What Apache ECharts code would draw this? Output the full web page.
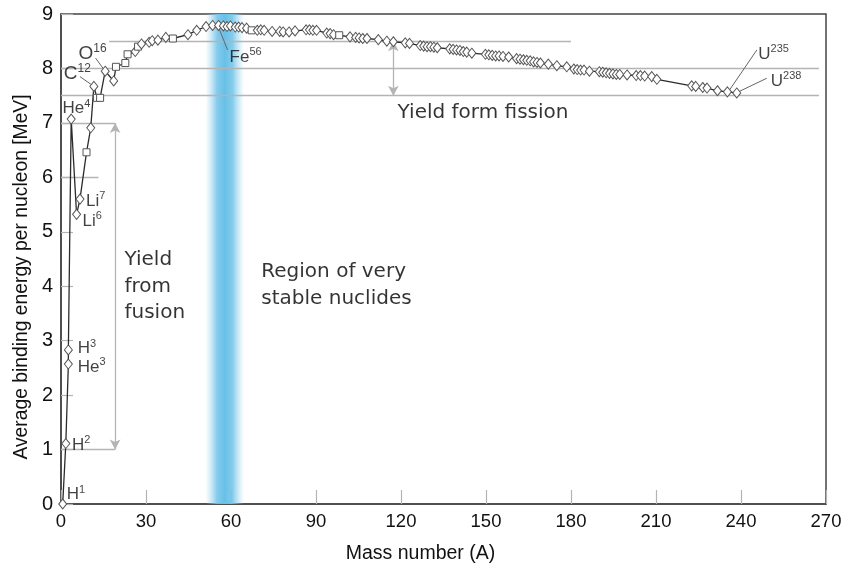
<!DOCTYPE html>
<html>
<head>
<meta charset="utf-8">
<script src="https://cdn.jsdelivr.net/npm/echarts@6/dist/echarts.min.js"></script>
<style>
  html, body { margin: 0; padding: 0; background: #fff; }
  #chart { width: 845px; height: 566px; }
</style>
</head>
<body>
<div id="chart"></div>
<script>
// Nuclide mass numbers and average binding energy per nucleon (MeV)
const massNumber = [
  0.6, 1.7, 2.6, 2.6, 3.6, 5.5, 6.7, 9.0, 10.5, 11.6, 12.7, 13.8, 15.6, 18.6, 19.4,
  22.7, 23.5, 26.2, 27.2, 28.4, 31.1, 32.2, 34.2, 37.0, 39.5, 44.8, 47.9, 51.2, 53.5,
  55.6, 57.3, 58.6, 59.8, 61.5, 62.7, 63.9, 65.5, 67.3, 69.3, 70.5, 71.7, 74.5, 77.2,
  78.4, 80.5, 82.6, 86.5, 87.7, 88.9, 90.2, 93.8, 95.0, 96.2, 98.2, 102.0, 104.0,
  105.2, 106.5, 108.0, 112.0, 115.0, 117.3, 121.5, 123.0, 126.8, 128.0, 129.2, 130.4,
  131.6, 132.8, 137.2, 138.4, 139.6, 140.8, 142.0, 143.2, 145.0, 149.8, 151.0, 152.2,
  153.4, 154.6, 156.0, 158.0, 160.8, 162.0, 163.2, 164.4, 165.6, 166.8, 168.0, 169.2,
  172.0, 175.0, 178.5, 181.0, 182.2, 183.4, 184.6, 186.5, 190.0, 191.2, 192.4, 193.6,
  194.8, 196.0, 197.2, 199.8, 203.0, 204.5, 206.0, 208.5, 210.3, 222.6, 224.0, 226.5,
  228.0, 231.7, 235.2, 238.5
];
const bindingEnergy = [
  0.00, 1.11, 2.57, 2.83, 7.07, 5.32, 5.60, 6.46, 6.91, 7.67, 7.46, 7.46, 7.95, 7.77, 8.03,
  8.10, 8.26, 8.31, 8.40, 8.45, 8.48, 8.51, 8.52, 8.57, 8.55, 8.62, 8.70, 8.77, 8.79,
  8.79, 8.78, 8.77, 8.78, 8.76, 8.76, 8.75, 8.74, 8.70, 8.70, 8.71, 8.70, 8.68, 8.68,
  8.67, 8.67, 8.69, 8.71, 8.71, 8.70, 8.70, 8.65, 8.64, 8.62, 8.61, 8.58, 8.57,
  8.56, 8.55, 8.55, 8.53, 8.50, 8.49, 8.47, 8.46, 8.42, 8.41, 8.40, 8.40,
  8.39, 8.38, 8.36, 8.35, 8.34, 8.33, 8.31, 8.30, 8.28, 8.26, 8.25, 8.24,
  8.23, 8.23, 8.22, 8.21, 8.18, 8.17, 8.16, 8.15, 8.14, 8.12, 8.11, 8.10,
  8.08, 8.05, 8.03, 7.99, 7.98, 7.97, 7.97, 7.95, 7.94, 7.93, 7.92, 7.91,
  7.90, 7.89, 7.89, 7.88, 7.87, 7.87, 7.86, 7.85, 7.80, 7.68, 7.67, 7.65,
  7.64, 7.59, 7.57, 7.55
];
// marker shape per nuclide: d = diamond, s = square
const markerShape = [
  'd','d','d','d','d','d','d','s','d','d','s','s','d','d','s',
  's','s','d','s','d','d','d','d','d','s','d','d','d','d',
  'd','d','d','d','d','d','d','d','s','d','d','d','d','d',
  'd','d','d','d','d','d','d','d','d','d','s','d','d',
  'd','d','d','d','d','d','d','d','d','d','d','d',
  'd','d','d','d','d','d','d','d','d','d','d','d',
  'd','d','d','d','d','d','d','d','d','d','d','d',
  'd','d','d','d','d','d','d','d','d','d','d','d',
  'd','d','d','d','d','d','d','d','d','d','d','d',
  'd','d','d','d'
];

// Nuclide labels: element symbol, mass number superscript, anchor [A, E]
const isotopeSymbol = ['H', 'H', 'He', 'H', 'He', 'Li', 'Li', 'C', 'O', 'Fe', 'U', 'U'];
const isotopeMass   = ['1', '2', '3', '3', '4', '7', '6', '12', '16', '56', '235', '238'];
const isotopeAnchor = [
  [2.0, 0.19], [3.9, 1.10], [5.9, 2.53], [5.9, 2.87], [0.5, 7.28], [8.8, 5.58],
  [7.6, 5.21], [1.0, 7.92], [6.2, 8.28], [59.5, 8.22], [246.1, 8.28], [250.5, 7.79]
];
const isotopeLarge  = [false, false, false, false, false, false, false, true, true, false, false, false];

// Leader lines from labels to their nuclides: [A1, E1, A2, E2]
const leaders = [
  [6.7, 7.85, 10.8, 7.70],
  [12.2, 8.19, 15.3, 7.97],
  [55.4, 8.78, 58.8, 8.34],
  [235.9, 7.60, 245.6, 8.34],
  [239.1, 7.57, 249.1, 7.82]
];

// Region texts
const regionTexts = ['Yield\nfrom\nfusion', 'Region of very\nstable nuclides', 'Yield form fission'];
const regionAnchor = [[22.4, 3.99], [70.7, 4.02], [118.8, 7.18]];

// Stable band limits on the mass-number axis
const stableBand = [51.0, 64.6];

const xTicks = { min: 0, max: 270, interval: 30 };
const yTicks = { min: 0, max: 9, interval: 1 };

const GRAY = '#b4b4b4';
const AXIS = '#444';
const TXT = '#111';
const SANS = '"Liberation Sans", Arial, sans-serif';
const ROUND = '"DejaVu Sans", sans-serif';

const curveData = massNumber.map((a, i) => {
  const sq = markerShape[i] === 's';
  return {
    value: [a, bindingEnergy[i]],
    symbol: sq ? 'rect' : 'diamond',
    symbolSize: sq ? [7, 7] : [8, 10]
  };
});

const plainLine = (a1, e1, a2, e2) => [
  { coord: [a1, e1], symbol: 'none' },
  { coord: [a2, e2], symbol: 'none' }
];
const arrowLine = (a1, e1, a2, e2) => [
  { coord: [a1, e1], symbol: 'arrow', symbolSize: [8, 10] },
  { coord: [a2, e2], symbol: 'arrow', symbolSize: [8, 10] }
];

const guideLines = [
  plainLine(0, 8, 267.5, 8),
  plainLine(0, 7.5, 267.5, 7.5),
  plainLine(17, 8.5, 180, 8.5),
  plainLine(0, 7, 19.1, 7),
  plainLine(0, 1, 19.1, 1),
  plainLine(0, 6, 13.2, 6),
  arrowLine(19.1, 7, 19.1, 1),
  arrowLine(117.3, 8.5, 117.3, 7.5)
];
const leaderLines = leaders.map(l => plainLine(l[0], l[1], l[2], l[3]));

const labelData = isotopeSymbol.map((s, i) => ({
  value: isotopeAnchor[i],
  label: {
    formatter: isotopeLarge[i] ? `{B|${s}}{S|${isotopeMass[i]}}` : `{b|${s}}{s|${isotopeMass[i]}}`
  }
}));

const regionData = regionTexts.map((t, i) => ({ value: regionAnchor[i], name: t }));

const chart = echarts.init(document.getElementById('chart'), null, { renderer: 'canvas' });

chart.setOption({
  animation: false,
  backgroundColor: '#fff',
  grid: {
    left: 61, right: 19, top: 14, bottom: 62,
    outerBoundsMode: 'none',
    containLabel: false,
    show: true, borderColor: AXIS, borderWidth: 1.5, backgroundColor: 'transparent'
  },
  xAxis: {
    type: 'value',
    min: xTicks.min, max: xTicks.max, interval: xTicks.interval,
    name: 'Mass number (A)',
    nameLocation: 'middle',
    nameGap: 40,
    nameTextStyle: { color: TXT, fontSize: 19.5, fontFamily: SANS, padding: [0, 46, 0, 0] },
    axisLine: { show: true, lineStyle: { color: AXIS, width: 1.5 } },
    axisTick: { show: true, inside: true, length: 14, lineStyle: { color: GRAY, width: 1.2 } },
    axisLabel: { color: TXT, fontSize: 18.5, fontFamily: SANS, margin: 8 },
    splitLine: { show: false }
  },
  yAxis: {
    type: 'value',
    min: yTicks.min, max: yTicks.max, interval: yTicks.interval,
    name: 'Average binding energy per nucleon [MeV]',
    nameLocation: 'middle',
    nameRotate: 90,
    nameGap: 30,
    nameTextStyle: { color: TXT, fontSize: 19.3, fontFamily: SANS, padding: [0, 36, 0, 0] },
    axisLine: { show: true, lineStyle: { color: AXIS, width: 1.5 } },
    axisTick: { show: true, inside: true, length: 12, lineStyle: { color: GRAY, width: 1.2 } },
    axisLabel: { color: TXT, fontSize: 20, fontFamily: SANS, margin: 8 },
    splitLine: { show: false }
  },
  series: [
    {
      // light-gray guides, arrows and the stable-nuclide band
      name: 'guides',
      type: 'line',
      data: [],
      z: 1,
      silent: true,
      markArea: {
        silent: true,
        itemStyle: {
          color: {
            type: 'linear', x: 0, y: 0, x2: 1, y2: 0,
            colorStops: [
              { offset: 0, color: 'rgba(150,210,238,0)' },
              { offset: 0.15, color: 'rgba(140,205,236,0.45)' },
              { offset: 0.3, color: 'rgba(118,198,234,0.9)' },
              { offset: 0.5, color: 'rgba(104,192,231,1)' },
              { offset: 0.7, color: 'rgba(118,198,234,0.9)' },
              { offset: 0.85, color: 'rgba(140,205,236,0.45)' },
              { offset: 1, color: 'rgba(150,210,238,0)' }
            ]
          }
        },
        data: [[{ xAxis: stableBand[0] }, { xAxis: stableBand[1] }]]
      },
      markLine: {
        silent: true,
        animation: false,
        label: { show: false },
        lineStyle: { color: GRAY, width: 1.3, type: 'solid' },
        emphasis: { disabled: true },
        data: guideLines
      }
    },
    {
      name: 'binding energy',
      type: 'line',
      z: 5,
      data: curveData,
      lineStyle: { color: '#2b2b2b', width: 1.3 },
      itemStyle: { color: '#fff', borderColor: '#555', borderWidth: 1 },
      showAllSymbol: true,
      silent: true
    },
    {
      name: 'isotope labels',
      type: 'scatter',
      z: 6,
      symbolSize: 0,
      silent: true,
      data: labelData,
      label: {
        show: true,
        position: 'right',
        distance: 0,
        color: TXT,
        rich: {
          b: { fontSize: 17, fontFamily: SANS, color: TXT, lineHeight: 19, verticalAlign: 'bottom' },
          s: { fontSize: 11, fontFamily: SANS, color: TXT, lineHeight: 19, verticalAlign: 'top' },
          B: { fontSize: 19, fontFamily: SANS, color: TXT, lineHeight: 21, verticalAlign: 'bottom' },
          S: { fontSize: 12, fontFamily: SANS, color: TXT, lineHeight: 21, verticalAlign: 'top' }
        }
      },
      markLine: {
        silent: true,
        animation: false,
        label: { show: false },
        lineStyle: { color: '#666', width: 1, type: 'solid' },
        emphasis: { disabled: true },
        data: leaderLines
      }
    },
    {
      name: 'regions',
      type: 'scatter',
      z: 6,
      symbolSize: 0,
      silent: true,
      data: regionData,
      label: {
        show: true,
        position: 'right',
        distance: 0,
        formatter: p => p.name,
        color: '#000',
        fontSize: 20,
        lineHeight: 26.5,
        fontFamily: ROUND
      }
    }
  ]
});
</script>
</body>
</html>
